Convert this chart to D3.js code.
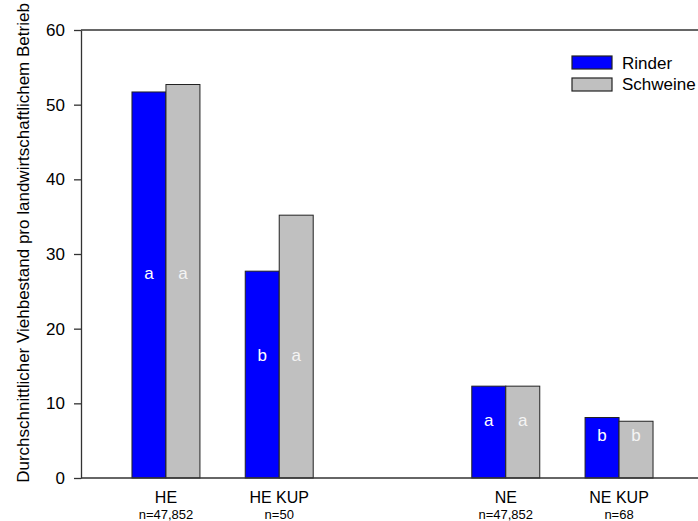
<!DOCTYPE html>
<html>
<head>
<meta charset="utf-8">
<script src="https://cdn.jsdelivr.net/npm/d3@7"></script>
<style>
  body { margin: 0; background: #fff; }
  svg { display: block; font-family: "Liberation Sans", Arial, sans-serif; }
</style>
</head>
<body>
<div id="chart"></div>
<script>
// data
const groups = ['HE', 'HE KUP', 'NE', 'NE KUP'];
const groupN = ['n=47,852', 'n=50', 'n=47,852', 'n=68'];
const groupPos = [0, 1, 3, 4];
const rinder = [51.7, 27.7, 12.3, 8.1];
const schweine = [52.7, 35.2, 12.3, 7.6];
const rinderLetters = ['a', 'b', 'a', 'b'];
const schweineLetters = ['a', 'a', 'a', 'b'];
const letterAt = [27.4, 16.4, 7.7, 5.7];
const yTicks = [0, 10, 20, 30, 40, 50, 60];

const W = 698, H = 521;
const margin = { top: 30, left: 81, bottom: 478, right: 704 };

const svg = d3.select('#chart').append('svg')
  .attr('width', W).attr('height', H);

const x = d3.scaleLinear().domain([-0.75, 4.75]).range([margin.left, margin.right]);
const y = d3.scaleLinear().domain([0, 60]).range([margin.bottom, margin.top]);
const barW = x(0.3) - x(0);

// top frame line
svg.append('line')
  .attr('x1', margin.left).attr('x2', margin.right)
  .attr('y1', margin.top).attr('y2', margin.top)
  .attr('stroke', '#333').attr('stroke-width', 1.3);

// bars
const series = [
  { name: 'Rinder', vals: rinder, letters: rinderLetters, fill: '#0000ff', txt: '#ffffff', off: -1 },
  { name: 'Schweine', vals: schweine, letters: schweineLetters, fill: '#c0c0c0', txt: '#f4f4f4', off: 0 }
];

series.forEach(s => {
  svg.append('g').selectAll('rect')
    .data(s.vals)
    .join('rect')
    .attr('x', (d, i) => x(groupPos[i]) + s.off * barW)
    .attr('y', d => y(d))
    .attr('width', barW)
    .attr('height', d => y(0) - y(d))
    .attr('fill', s.fill)
    .attr('stroke', '#222')
    .attr('stroke-width', 1);

  svg.append('g').selectAll('text')
    .data(s.letters)
    .join('text')
    .attr('x', (d, i) => x(groupPos[i]) + s.off * barW + barW / 2)
    .attr('y', (d, i) => y(letterAt[i]))
    .attr('dy', '0.35em')
    .attr('text-anchor', 'middle')
    .attr('font-size', 17)
    .attr('fill', s.txt)
    .text(d => d);
});

// y axis
const yAxis = svg.append('g')
  .attr('transform', 'translate(' + margin.left + ',0)')
  .call(d3.axisLeft(y).tickValues(yTicks).tickSize(7).tickPadding(9).tickSizeOuter(0));
yAxis.select('.domain').attr('stroke', '#333').attr('stroke-width', 1.3);
yAxis.selectAll('.tick line').attr('stroke', '#333').attr('stroke-width', 1.3);
yAxis.selectAll('.tick text')
  .attr('font-size', 17).attr('fill', '#000')
  .attr('font-family', '"Liberation Sans", Arial, sans-serif');

// x axis line
svg.append('line')
  .attr('x1', margin.left).attr('x2', margin.right)
  .attr('y1', margin.bottom).attr('y2', margin.bottom)
  .attr('stroke', '#333').attr('stroke-width', 1.3);

// category labels
svg.append('g').selectAll('text')
  .data(groups)
  .join('text')
  .attr('x', (d, i) => x(groupPos[i]))
  .attr('y', 503)
  .attr('text-anchor', 'middle')
  .attr('font-size', 16)
  .text(d => d);

svg.append('g').selectAll('text')
  .data(groupN)
  .join('text')
  .attr('x', (d, i) => x(groupPos[i]))
  .attr('y', 519)
  .attr('text-anchor', 'middle')
  .attr('font-size', 13)
  .text(d => d);

// y title
svg.append('text')
  .attr('transform', 'translate(29,243) rotate(-90)')
  .attr('text-anchor', 'middle')
  .attr('font-size', 17)
  .text('Durchschnittlicher Viehbestand pro landwirtschaftlichem Betrieb');

// legend
const legend = svg.append('g');
series.forEach((s, i) => {
  legend.append('rect')
    .attr('x', 572).attr('y', 56 + i * 22)
    .attr('width', 40).attr('height', 13)
    .attr('fill', s.fill).attr('stroke', '#222').attr('stroke-width', 1.2);
  legend.append('text')
    .attr('x', 622).attr('y', 68.5 + i * 21)
    .attr('font-size', 17)
    .text(s.name);
});
</script>
</body>
</html>
